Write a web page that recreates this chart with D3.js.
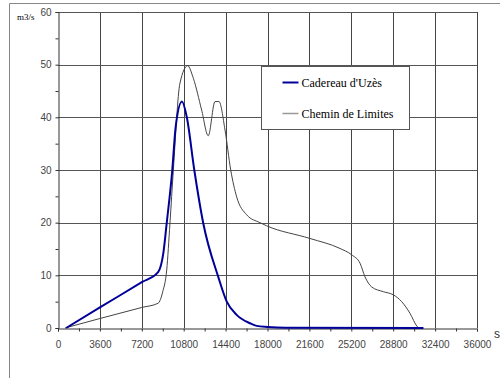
<!DOCTYPE html>
<html>
<head>
<meta charset="utf-8">
<script src="https://cdn.jsdelivr.net/npm/d3@7"></script>
<style>
  body { margin: 0; background: #fff; }
  svg { display: block; }
  .tick text { font-family: Arial, "Liberation Sans", sans-serif; font-size: 10px; fill: #444; }
</style>
</head>
<body>
<svg id="chart" width="500" height="378"></svg>
<script>
// Cadereau d'Uzès (s, m3/s)
const uzesTime = [700, 3600, 7200, 8600, 9050, 9340, 9820, 10110, 10650, 11060, 11710, 12480, 13770, 14500, 15350, 16500, 17070, 18000, 19500, 31400];
const uzesFlow = [0, 3.9, 8.7, 10.6, 14.2, 19.9, 30, 38.2, 43, 40.1, 30, 19.9, 9.7, 5, 2.5, 0.9, 0.4, 0.2, 0.05, 0];

// Chemin de Limites
const limitesTime = [600, 3600, 7200, 8600, 9000, 9340, 9620, 9910, 10480, 11140, 11630, 12340, 12910, 13490, 13830, 14350, 14840, 15350, 16210, 17350, 17930, 21650, 24230, 25230, 25950, 26380, 26950, 27950, 28810, 29530, 30240, 30870, 31000];
const limitesFlow = [0, 1.8, 3.9, 4.7, 6.9, 11, 19.9, 30, 46.5, 49.8, 47.4, 41.4, 36.5, 43, 43, 37.6, 30, 24.9, 21.5, 20, 19.4, 17, 15.1, 13.9, 12.3, 9.7, 7.8, 6.9, 6.3, 5, 2.8, 0.25, 0];

const xTicks = d3.range(0, 36001, 3600);
const yTicks = [0, 10, 20, 30, 40, 50, 60];
const seriesNames = ["Cadereau d'Uzès", "Chemin de Limites"];
const seriesColors = ['#000099', '#444444'];

const svg = d3.select('#chart');
const plot = { left: 58, right: 477, top: 12, bottom: 328 };

const x = d3.scaleLinear().domain([0, 36000]).range([plot.left, plot.right]);
const y = d3.scaleLinear().domain([0, 60]).range([plot.bottom, plot.top]);

// outer frame
svg.append('path')
  .attr('d', 'M9.5,378 V3.5 H500')
  .attr('fill', 'none')
  .attr('stroke', '#888')
  .attr('stroke-width', 1);

// grid
svg.append('g')
  .selectAll('line')
  .data(xTicks.slice(1))
  .enter().append('line')
  .attr('x1', d => Math.round(x(d)) + 0.5)
  .attr('x2', d => Math.round(x(d)) + 0.5)
  .attr('y1', plot.top)
  .attr('y2', plot.bottom)
  .attr('stroke', '#444');

svg.append('g')
  .selectAll('line')
  .data(yTicks.slice(1))
  .enter().append('line')
  .attr('x1', plot.left)
  .attr('x2', plot.right)
  .attr('y1', d => Math.round(y(d)) + 0.5)
  .attr('y2', d => Math.round(y(d)) + 0.5)
  .attr('stroke', '#555');

// axes
const xAxis = svg.append('g')
  .attr('transform', `translate(0,${plot.bottom + 0.5})`)
  .call(d3.axisBottom(x).tickValues(d3.range(0, 36001, 1800)).tickSize(3).tickFormat(d => d % 3600 === 0 ? d : ''));
xAxis.select('.domain').attr('stroke', '#333');
xAxis.selectAll('.tick line').attr('stroke', '#333');
xAxis.selectAll('.tick text').attr('dy', '1.3em');

const yAxis = svg.append('g')
  .attr('transform', `translate(${plot.left + 0.5},0)`)
  .call(d3.axisLeft(y).tickValues(d3.range(0, 61, 5)).tickSize(3).tickFormat(d => d % 10 === 0 ? d : ''));
yAxis.select('.domain').attr('stroke', '#333');
yAxis.selectAll('.tick line').attr('stroke', '#333');
yAxis.selectAll('.tick text').attr('x', -7);

// lines
const line = d3.line()
  .x(d => x(d[0]))
  .y(d => y(d[1]))
  .curve(d3.curveMonotoneX);

svg.append('path')
  .datum(d3.zip(limitesTime, limitesFlow))
  .attr('fill', 'none')
  .attr('stroke', seriesColors[1])
  .attr('stroke-width', 1)
  .attr('d', line);

svg.append('path')
  .datum(d3.zip(uzesTime, uzesFlow))
  .attr('fill', 'none')
  .attr('stroke', seriesColors[0])
  .attr('stroke-width', 2)
  .attr('d', line);

// legend
const legend = svg.append('g').attr('transform', 'translate(261.5,66.5)');
legend.append('rect')
  .attr('width', 148)
  .attr('height', 63)
  .attr('fill', '#fff')
  .attr('stroke', '#555');

seriesNames.forEach((name, i) => {
  const ly = 16 + i * 31;
  legend.append('line')
    .attr('x1', 21).attr('x2', 37)
    .attr('y1', ly).attr('y2', ly)
    .attr('stroke', i === 0 ? seriesColors[0] : '#999')
    .attr('stroke-width', i === 0 ? 2 : 1.5);
  legend.append('text')
    .attr('x', 40)
    .attr('y', ly + 4)
    .attr('font-family', '"Liberation Serif", "Times New Roman", serif')
    .attr('font-size', 12)
    .attr('fill', '#000')
    .text(name);
});

// axis titles
svg.append('text')
  .attr('x', 17)
  .attr('y', 20)
  .attr('font-family', '"Liberation Serif", "Times New Roman", serif')
  .attr('font-size', 9)
  .text('m3/s');

svg.append('text')
  .attr('x', 494)
  .attr('y', 338)
  .attr('font-family', 'Arial, "Liberation Sans", sans-serif')
  .attr('font-size', 12)
  .attr('fill', '#333')
  .text('s');
</script>
</body>
</html>
